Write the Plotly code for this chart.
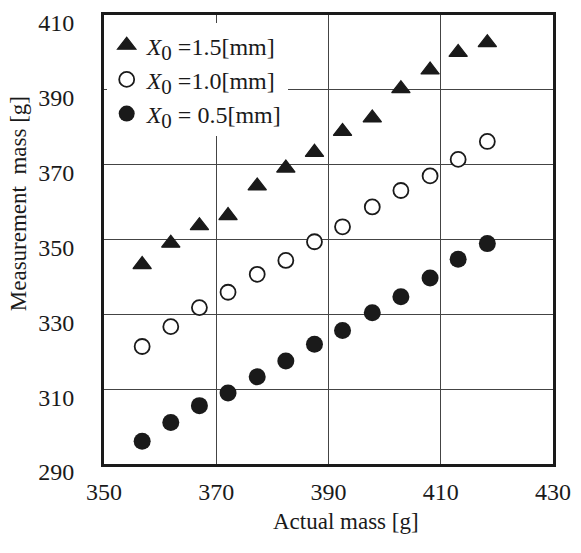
import plotly.graph_objects as go

actual_mass = [356.8, 361.9, 367.0, 372.1, 377.3, 382.4, 387.5, 392.5, 397.8, 402.9, 408.1, 413.1, 418.3]
meas_x15 = [343.3, 349.0, 353.7, 356.4, 364.3, 369.1, 373.3, 378.9, 382.5, 390.3, 395.3, 400.0, 402.6]
meas_x10 = [321.4, 326.7, 331.8, 335.9, 340.7, 344.4, 349.4, 353.4, 358.7, 363.1, 367.0, 371.4, 376.2]
meas_x05 = [296.1, 301.1, 305.6, 309.0, 313.3, 317.5, 322.0, 325.7, 330.4, 334.7, 339.7, 344.7, 348.9]
x_ticks = [350, 370, 390, 410, 430]
y_ticks = [290, 310, 330, 350, 370, 390, 410]

FONT = "Liberation Serif"
INK = "#1a1a1a"
SUB0 = '<sub><span style="font-size:21px">0</span></sub>'

fig = go.Figure()
fig.add_trace(go.Scatter(
    x=actual_mass, y=meas_x15, mode="markers",
    name="<i>X</i>" + SUB0 + " =1.5[mm]",
    marker=dict(symbol="triangle-up", size=16, color=INK,
                line=dict(width=1.2, color=INK)),
))
fig.add_trace(go.Scatter(
    x=actual_mass, y=meas_x10, mode="markers",
    name="<i>X</i>" + SUB0 + " =1.0[mm]",
    marker=dict(symbol="circle", size=15, color="white",
                line=dict(width=1.8, color=INK)),
))
fig.add_trace(go.Scatter(
    x=actual_mass, y=meas_x05, mode="markers",
    name="<i>X</i>" + SUB0 + " = 0.5[mm]",
    marker=dict(symbol="circle", size=17, color=INK,
                line=dict(width=0, color=INK)),
))

axis_common = dict(
    showline=True, linewidth=3, linecolor=INK, mirror=True,
    showgrid=True, gridcolor="#444444", gridwidth=1,
    zeroline=False, ticks="", tickfont=dict(family=FONT, size=24, color=INK),
)

fig.update_layout(
    width=581, height=553,
    margin=dict(l=104, r=21, t=10, b=89),
    paper_bgcolor="white", plot_bgcolor="white",
    font=dict(family=FONT, size=20, color=INK),
    showlegend=True,
    legend=dict(
        x=0.006, y=0.982, xanchor="left", yanchor="top",
        bgcolor="white", borderwidth=0,
        font=dict(family=FONT, size=24, color=INK),
        itemsizing="trace",
    ),
    xaxis=dict(
        range=[350, 430], tickvals=x_ticks, ticktext=[str(v) for v in x_ticks],
        ticklabelstandoff=4,
        **axis_common,
    ),
    yaxis=dict(
        range=[290, 410], tickvals=y_ticks, ticktext=[str(v) for v in y_ticks],
        ticklabelstandoff=22, ticklabelshift=8,
        **axis_common,
    ),
    annotations=[
        dict(text="Actual mass [g]", xref="paper", yref="paper",
             x=(350 - 104) / 456, y=(464 - 522) / 454,
             xanchor="center", yanchor="middle", showarrow=False,
             font=dict(family=FONT, size=23, color=INK)),
        dict(text="Measurement\u00a0 mass [g]", xref="paper", yref="paper",
             x=(18 - 104) / 456, y=(464 - 201) / 454, textangle=-90,
             xanchor="center", yanchor="middle", showarrow=False,
             font=dict(family=FONT, size=23, color=INK)),
    ],
)

fig.write_html("out.html")
